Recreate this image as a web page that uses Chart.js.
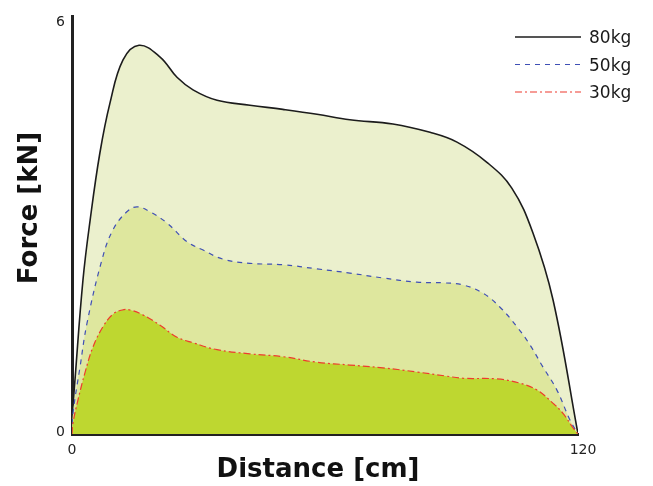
<!DOCTYPE html>
<html>
<head>
<meta charset="utf-8">
<script src="https://cdn.jsdelivr.net/npm/chart.js@4/dist/chart.umd.min.js"></script>
<style>
  html, body { margin: 0; padding: 0; background: #ffffff; }
  #wrap { width: 653px; height: 486px; position: relative; }
</style>
</head>
<body>
<div id="wrap"><canvas id="c" width="653" height="486"></canvas></div>
<script>
// ---- Data ----
const seriesLabels = ['80kg', '50kg', '30kg'];

// distance [cm], force [kN]
const dist80  = [0, 0.24, 0.71, 2.6, 4.3, 6.6, 9.0, 12.1, 15.9, 20.9, 24.9, 28.7, 34.4, 42.2, 50.0, 58.1, 65.9, 76.1, 84.9, 91.3, 98.4, 104.3, 109.3, 114.1, 120];
const force80 = [0, 0.39, 0.78, 2.21, 3.07, 4.03, 4.75, 5.37, 5.58, 5.41, 5.12, 4.94, 4.79, 4.72, 4.66, 4.59, 4.51, 4.45, 4.33, 4.19, 3.90, 3.53, 2.89, 1.92, 0];

const dist50  = [0, 0.24, 1.9, 3.56, 7.1, 9.7, 13.0, 15.4, 18.5, 22.5, 27.3, 31.1, 35.8, 42.2, 50.0, 58.1, 65.9, 73.7, 81.8, 88.0, 92.7, 97.5, 101.5, 105.5, 108.6, 111.7, 115.0, 118.1, 120];
const force50 = [0, 0.30, 0.96, 1.59, 2.50, 2.93, 3.19, 3.26, 3.19, 3.03, 2.76, 2.64, 2.51, 2.45, 2.43, 2.37, 2.31, 2.24, 2.18, 2.17, 2.14, 2.02, 1.82, 1.54, 1.28, 0.96, 0.63, 0.20, 0];

const dist30  = [0, 0.24, 1.42, 3.08, 4.98, 7.35, 9.7, 11.9, 13.8, 16.8, 20.9, 24.9, 28.7, 34.4, 42.2, 50.0, 58.1, 65.9, 73.7, 81.8, 88.9, 92.7, 100.8, 106.2, 110.3, 114.1, 116.4, 118.8, 120];
const force30 = [0, 0.16, 0.49, 0.88, 1.25, 1.54, 1.72, 1.78, 1.78, 1.71, 1.56, 1.39, 1.31, 1.21, 1.15, 1.11, 1.03, 0.99, 0.95, 0.89, 0.83, 0.80, 0.79, 0.73, 0.63, 0.44, 0.30, 0.09, 0];

const xTicks = [0, 120];
const yTicks = [0, 6];
const xTitle = 'Distance [cm]';
const yTitle = 'Force [kN]';

// ---- Build datasets ----
function pts(xs, ys) { return xs.map((x, i) => ({ x: x, y: ys[i] })); }

const datasets = [
  {
    label: seriesLabels[0], data: pts(dist80, force80),
    borderColor: '#1c1c1c', borderWidth: 1.6, borderDash: [],
    backgroundColor: 'rgb(235,240,205)', fill: 'origin', order: 3
  },
  {
    label: seriesLabels[1], data: pts(dist50, force50),
    borderColor: '#3f4fb5', borderWidth: 1.2, borderDash: [5, 5],
    backgroundColor: 'rgb(222,231,158)', fill: 'origin', order: 2
  },
  {
    label: seriesLabels[2], data: pts(dist30, force30),
    borderColor: '#ee3b2e', borderWidth: 1.2, borderDash: [7, 3, 2, 3],
    backgroundColor: 'rgb(190,215,48)', fill: 'origin', order: 1
  }
];

// ---- Custom text/legend plugin ----
const decor = {
  id: 'decor',
  afterDraw(chart) {
    const ctx = chart.ctx;
    const xs = chart.scales.x, ys = chart.scales.y;
    ctx.save();
    ctx.fillStyle = '#222';
    ctx.font = '14px "DejaVu Sans", sans-serif';
    // y tick labels
    ctx.textAlign = 'right'; ctx.textBaseline = 'middle';
    yTicks.forEach((v, i) => {
      const py = ys.getPixelForValue(v) + (i === yTicks.length - 1 ? 6 : -2);
      ctx.fillText(String(v), xs.left - 7, py);
    });
    // x tick labels
    ctx.textAlign = 'center'; ctx.textBaseline = 'middle';
    xTicks.forEach((v, i) => {
      const px = xs.getPixelForValue(v) + (i === xTicks.length - 1 ? 5 : 0);
      ctx.fillText(String(v), px, ys.bottom + 16);
    });
    // axis titles
    ctx.fillStyle = '#111';
    ctx.font = 'bold 26px "DejaVu Sans", sans-serif';
    ctx.textAlign = 'center'; ctx.textBaseline = 'middle';
    ctx.fillText(xTitle, 318, 470);
    ctx.save();
    ctx.translate(30, 208);
    ctx.rotate(-Math.PI / 2);
    ctx.fillText(yTitle, 0, 0);
    ctx.restore();
    // legend
    ctx.font = '500 17px "DejaVu Sans", sans-serif';
    ctx.textAlign = 'left'; ctx.textBaseline = 'middle';
    chart.data.datasets.forEach((ds, i) => {
      const y = 37 + i * 27.5;
      ctx.save();
      ctx.strokeStyle = ds.borderColor;
      ctx.lineWidth = ds.borderWidth;
      ctx.setLineDash(ds.borderDash || []);
      ctx.beginPath();
      ctx.moveTo(515, y); ctx.lineTo(581, y);
      ctx.stroke();
      ctx.restore();
      ctx.fillStyle = '#1a1a1a';
      ctx.fillText(ds.label, 589, y + 2);
    });
    ctx.restore();
  }
};

new Chart(document.getElementById('c'), {
  type: 'line',
  data: { datasets: datasets },
  options: {
    responsive: false,
    animation: false,
    events: [],
    layout: { padding: { left: 72, right: 75, top: 16, bottom: 52 } },
    elements: {
      point: { radius: 0 },
      line: { tension: 0.4 }
    },
    plugins: {
      legend: { display: false },
      tooltip: { enabled: false },
      filler: { propagate: false }
    },
    scales: {
      x: {
        type: 'linear', min: 0, max: 120,
        afterBuildTicks: s => { s.ticks = xTicks.map(v => ({ value: v })); },
        grid: { display: false, drawTicks: false },
        border: { display: true, color: '#222', width: 3 },
        ticks: { display: false },
        title: { display: false }
      },
      y: {
        type: 'linear', min: 0, max: 6,
        afterBuildTicks: s => { s.ticks = yTicks.map(v => ({ value: v })); },
        grid: { display: false, drawTicks: false },
        border: { display: true, color: '#222', width: 3 },
        ticks: { display: false },
        title: { display: false }
      }
    }
  },
  plugins: [decor]
});
</script>
</body>
</html>
